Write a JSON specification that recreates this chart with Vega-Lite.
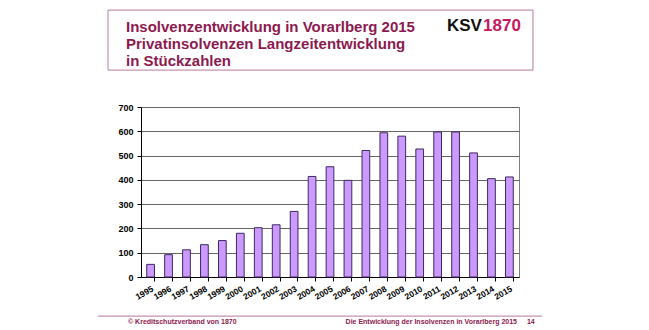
{
  "$schema": "https://vega.github.io/schema/vega-lite/v6.json",
  "width": 378,
  "height": 170,
  "autosize": {"type": "none"},
  "padding": {"left": 141, "top": 107, "right": 130, "bottom": 53},
  "background": "white",
  "config": {
    "font": "Liberation Sans",
    "view": {"stroke": "#808080", "strokeWidth": 1}
  },
  "resolve": {"scale": {"x": "independent", "y": "independent"}},
  "layer": [
    {
      "data": {
        "values": [
          {"Jahr": "1995", "Anzahl": 52},
          {"Jahr": "1996", "Anzahl": 92},
          {"Jahr": "1997", "Anzahl": 112},
          {"Jahr": "1998", "Anzahl": 133},
          {"Jahr": "1999", "Anzahl": 150},
          {"Jahr": "2000", "Anzahl": 180},
          {"Jahr": "2001", "Anzahl": 203},
          {"Jahr": "2002", "Anzahl": 215},
          {"Jahr": "2003", "Anzahl": 270},
          {"Jahr": "2004", "Anzahl": 414},
          {"Jahr": "2005", "Anzahl": 454},
          {"Jahr": "2006", "Anzahl": 398},
          {"Jahr": "2007", "Anzahl": 521},
          {"Jahr": "2008", "Anzahl": 594},
          {"Jahr": "2009", "Anzahl": 580},
          {"Jahr": "2010", "Anzahl": 527},
          {"Jahr": "2011", "Anzahl": 597},
          {"Jahr": "2012", "Anzahl": 597},
          {"Jahr": "2013", "Anzahl": 511},
          {"Jahr": "2014", "Anzahl": 405},
          {"Jahr": "2015", "Anzahl": 412}
        ]
      },
      "mark": {"type": "bar", "fill": "#cc99ff", "stroke": "#3d2a5e", "strokeWidth": 1},
      "encoding": {
        "x": {
          "field": "Jahr",
          "type": "ordinal",
          "scale": {"paddingInner": 0.57, "paddingOuter": 0.32},
          "axis": {
            "title": null,
            "labelAngle": -30,
            "labelAlign": "right",
            "labelBaseline": "top",
            "bandPosition": 1,
            "labelFontSize": 8.5,
            "labelFontWeight": "bold",
            "labelColor": "#000000",
            "labelPadding": 3,
            "labelOverlap": false,
            "domainColor": "#000000",
            "tickColor": "#000000",
            "tickSize": 4,
            "grid": false
          }
        },
        "y": {
          "field": "Anzahl",
          "type": "quantitative",
          "scale": {"domain": [0, 700], "nice": false},
          "axis": {
            "title": null,
            "values": [0, 100, 200, 300, 400, 500, 600, 700],
            "labelOverlap": false,
            "labelFontSize": 9,
            "labelFontWeight": "bold",
            "labelColor": "#000000",
            "labelPadding": 4,
            "domainColor": "#000000",
            "tickColor": "#000000",
            "tickSize": 4,
            "grid": true,
            "gridColor": "#666666",
            "gridOpacity": 1
          }
        }
      }
    },
    {
      "data": {"values": [{}]},
      "mark": {"type": "rect", "fill": "transparent", "stroke": "#b8789a", "strokeWidth": 1},
      "encoding": {
        "x": {"datum": -0.0873, "type": "quantitative", "scale": {"domain": [0, 1]}, "axis": null},
        "x2": {"datum": 1.037},
        "y": {"datum": 1099, "type": "quantitative", "scale": {"domain": [0, 700], "nice": false}, "axis": null},
        "y2": {"datum": 852}
      }
    },
    {
      "data": {"values": [{}]},
      "mark": {"type": "text", "text": ["Insolvenzentwicklung in Vorarlberg 2015", "Privatinsolvenzen Langzeitentwicklung", "in Stückzahlen"], "align": "left", "baseline": "alphabetic", "lineHeight": 17, "fontSize": 15, "fontWeight": "bold", "color": "#8c1a4f"},
      "encoding": {
        "x": {"datum": -0.0397, "type": "quantitative", "scale": {"domain": [0, 1]}, "axis": null},
        "y": {"datum": 1009, "type": "quantitative", "scale": {"domain": [0, 700], "nice": false}, "axis": null}
      }
    },
    {
      "data": {"values": [{}]},
      "mark": {"type": "text", "text": "KSV", "align": "left", "baseline": "middle", "fontSize": 17, "fontWeight": "bold", "color": "#111111"},
      "encoding": {
        "x": {"datum": 0.8095, "type": "quantitative", "scale": {"domain": [0, 1]}, "axis": null},
        "y": {"datum": 1033, "type": "quantitative", "scale": {"domain": [0, 700], "nice": false}, "axis": null}
      }
    },
    {
      "data": {"values": [{}]},
      "mark": {"type": "text", "text": "1870", "align": "left", "baseline": "middle", "fontSize": 17, "fontWeight": "bold", "color": "#c8175d"},
      "encoding": {
        "x": {"datum": 0.9048, "type": "quantitative", "scale": {"domain": [0, 1]}, "axis": null},
        "y": {"datum": 1033, "type": "quantitative", "scale": {"domain": [0, 700], "nice": false}, "axis": null}
      }
    },
    {
      "data": {"values": [{}]},
      "mark": {"type": "rule", "color": "#b8789a", "strokeWidth": 1},
      "encoding": {
        "x": {"datum": -0.1138, "type": "quantitative", "scale": {"domain": [0, 1]}, "axis": null},
        "x2": {"datum": 1.0608},
        "y": {"datum": -161, "type": "quantitative", "scale": {"domain": [0, 700], "nice": false}, "axis": null}
      }
    },
    {
      "data": {"values": [{}]},
      "mark": {"type": "text", "text": "© Kreditschutzverband von 1870", "align": "left", "baseline": "middle", "fontSize": 7, "fontWeight": "bold", "color": "#8c1a4f"},
      "encoding": {
        "x": {"datum": -0.0344, "type": "quantitative", "scale": {"domain": [0, 1]}, "axis": null},
        "y": {"datum": -185, "type": "quantitative", "scale": {"domain": [0, 700], "nice": false}, "axis": null}
      }
    },
    {
      "data": {"values": [{}]},
      "mark": {"type": "text", "text": "Die Entwicklung der Insolvenzen in Vorarlberg 2015", "align": "right", "baseline": "middle", "fontSize": 7, "fontWeight": "bold", "color": "#8c1a4f"},
      "encoding": {
        "x": {"datum": 0.9947, "type": "quantitative", "scale": {"domain": [0, 1]}, "axis": null},
        "y": {"datum": -185, "type": "quantitative", "scale": {"domain": [0, 700], "nice": false}, "axis": null}
      }
    },
    {
      "data": {"values": [{}]},
      "mark": {"type": "text", "text": "14", "align": "left", "baseline": "middle", "fontSize": 7, "fontWeight": "bold", "color": "#8c1a4f"},
      "encoding": {
        "x": {"datum": 1.021, "type": "quantitative", "scale": {"domain": [0, 1]}, "axis": null},
        "y": {"datum": -185, "type": "quantitative", "scale": {"domain": [0, 700], "nice": false}, "axis": null}
      }
    }
  ]
}
